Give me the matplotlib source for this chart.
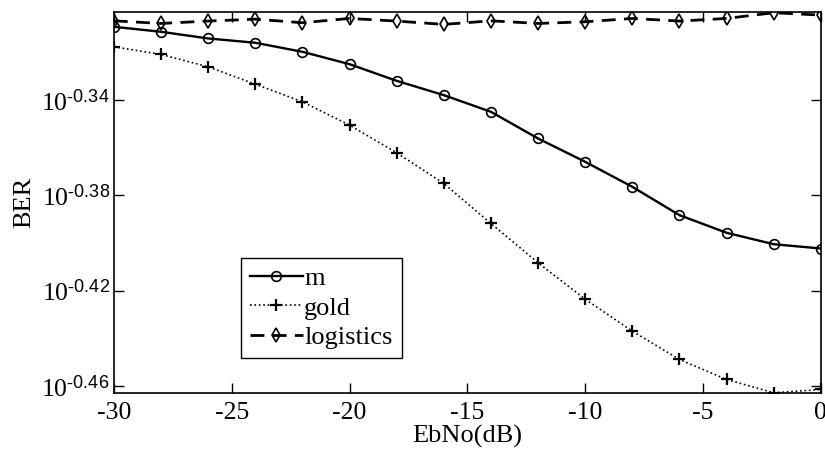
import matplotlib
matplotlib.use('Agg')
import matplotlib.pyplot as plt
from matplotlib.ticker import FixedLocator, FixedFormatter, NullLocator

plt.rcParams['font.family'] = ['Liberation Serif', 'DejaVu Serif']
plt.rcParams['mathtext.fontset'] = 'custom'
plt.rcParams['mathtext.rm'] = 'Liberation Serif'
plt.rcParams['mathtext.sf'] = 'Liberation Sans'
plt.rcParams['mathtext.it'] = 'Liberation Serif:italic'

# Data (log10 of BER)
ebno = [-30, -28, -26, -24, -22, -20, -18, -16, -14, -12, -10, -8, -6, -4, -2, 0]
m_exp = [-0.3092, -0.3113, -0.3141, -0.3159, -0.3197, -0.3249, -0.3319, -0.3379,
         -0.3449, -0.3561, -0.3659, -0.3764, -0.3883, -0.3957, -0.4005, -0.4023]
gold_exp = [-0.3176, -0.3208, -0.3260, -0.3333, -0.3407, -0.3505, -0.3621, -0.3750,
            -0.3918, -0.4083, -0.4236, -0.4370, -0.4489, -0.4573, -0.4629, -0.4615]
logistics_exp = [-0.3067, -0.3078, -0.3068, -0.3060, -0.3075, -0.3057, -0.3068, -0.3082,
                 -0.3067, -0.3078, -0.3071, -0.3057, -0.3068, -0.3057, -0.3033, -0.3043]
ytick_exp = ['-0.46', '-0.42', '-0.38', '-0.34']
xticks = [-30, -25, -20, -15, -10, -5, 0]

m_ber = [10 ** v for v in m_exp]
gold_ber = [10 ** v for v in gold_exp]
logistics_ber = [10 ** v for v in logistics_exp]

fig = plt.figure(figsize=(8.25, 4.55), dpi=100)
ax = fig.add_axes([0.138, 0.1356, 0.857, 0.838])

ax.plot(ebno, m_ber, color='black', linestyle='-', linewidth=1.7, marker='o',
        markersize=7, markerfacecolor='none', markeredgewidth=1.2, label='m')
ax.plot(ebno, gold_ber, color='black', linestyle=':', linewidth=1.2, marker='+',
        markersize=8, markeredgewidth=1.6, label='gold')
ax.plot(ebno, logistics_ber, color='black', linestyle='--', linewidth=2.0, marker='d',
        markersize=7, markerfacecolor='none', markeredgewidth=1.2, dashes=(5, 3),
        label='logistics')

ax.set_yscale('log')
ax.set_xlim(-30, 0)
ax.set_ylim(10 ** -0.4631, 10 ** -0.303)
ax.yaxis.set_major_locator(FixedLocator([10 ** float(v) for v in ytick_exp]))
ax.yaxis.set_major_formatter(FixedFormatter([r'$10^{\mathsf{%s}}$' % v.replace('-', r'\text{-}')
                                             for v in ytick_exp]))
ax.yaxis.set_minor_locator(NullLocator())
ax.set_xticks(xticks)
ax.set_xticklabels([str(v) for v in xticks])

ax.tick_params(which='both', direction='in', top=True, right=True, length=7,
               width=1, labelsize=18.5, pad=6)
ax.tick_params(axis='y', pad=3)
for s in ax.spines.values():
    s.set_linewidth(1.2)

ax.set_xlabel('EbNo(dB)', fontsize=19, labelpad=1)
ax.set_ylabel('BER', fontsize=19, labelpad=4)

leg = ax.legend(loc='upper left', bbox_to_anchor=(240.7 / 825, 1 - 257.7 / 455),
                bbox_transform=fig.transFigure, fontsize=19, frameon=True,
                fancybox=False, edgecolor='black', framealpha=1,
                borderpad=0.35, labelspacing=0.22, handlelength=2.0,
                handletextpad=0.05, borderaxespad=0)
leg.get_frame().set_linewidth(1.0)

fig.savefig('out.png', dpi=100)
